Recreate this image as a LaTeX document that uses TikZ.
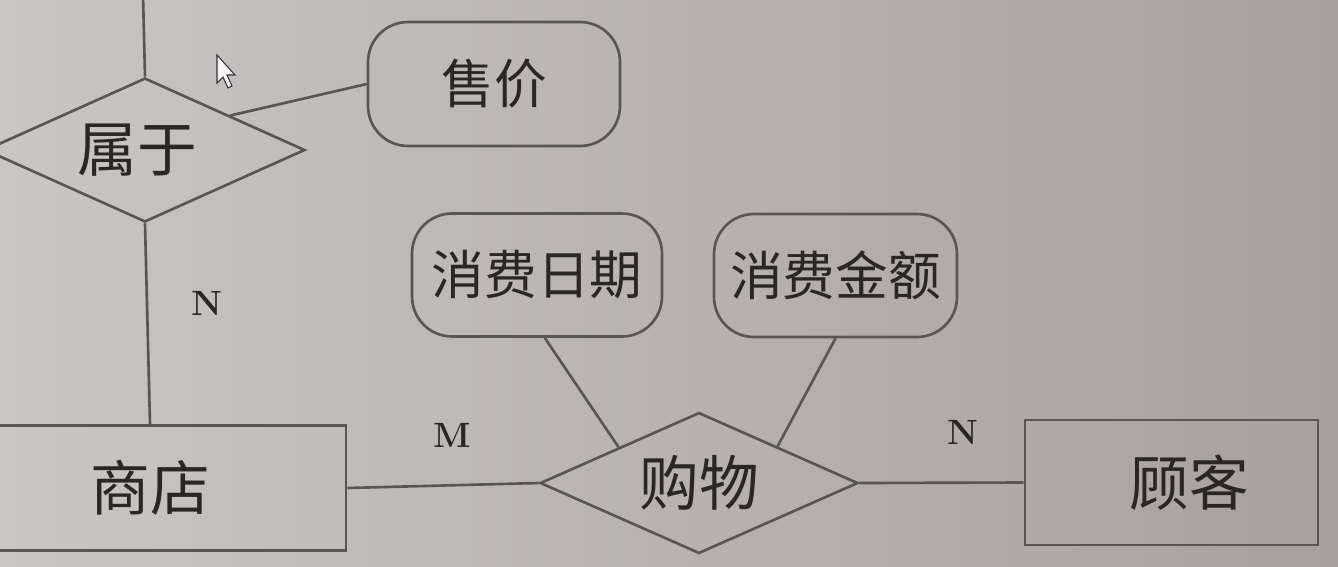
\documentclass[tikz,border=0pt]{standalone}
\usepackage{fontspec}
\newfontfamily\cjk{Noto Sans CJK SC}
\usetikzlibrary{shapes.geometric}
\definecolor{bgL}{HTML}{C9C6C5}
\definecolor{bgR}{HTML}{A7A09E}
\definecolor{ln}{HTML}{5A5555}
\definecolor{tx}{HTML}{2A2626}
\begin{document}
\begin{tikzpicture}[x=0.02cm,y=-0.02cm,
  conn/.style={draw=ln,line width=1.5pt},
  entity/.style={draw=ln,line width=1.5pt,rectangle,minimum height=2.5cm,inner sep=0pt,font=\cjk\fontsize{34}{40}\selectfont,text=tx},
  attr/.style={draw=ln,line width=1.5pt,rectangle,rounded corners=0.8cm,minimum height=2.46cm,inner sep=0pt,font=\cjk\fontsize{30}{36}\selectfont,text=tx},
  rel/.style={draw=ln,line width=1.5pt,diamond,shape aspect=2.4,inner sep=0pt,font=\cjk\fontsize{34}{40}\selectfont,text=tx},
  card/.style={font=\bfseries\fontsize{20}{24}\selectfont,text=tx}]
\useasboundingbox (0,0) rectangle (1338,566);
\clip (0,0) rectangle (1338,566);
\shade[left color=bgL,right color=bgR] (0,0) rectangle (1338,566);

\node[rel,minimum width=6.4cm,minimum height=2.88cm] (shuyu) at (145,150) {属于\hspace*{0.3cm}};
\node[attr,minimum width=5.04cm,minimum height=2.48cm] (shoujia) at (494,84) {售价};
\node[entity,minimum width=7.84cm] (shangdian) at (150,488) {商店};
\node[rel,minimum width=6.36cm,minimum height=2.82cm] (gouwu) at (699,483) {购物};
\node[attr,minimum width=5.0cm] (riqi) at (537,275) {消费日期};
\node[attr,minimum width=4.86cm] (jine) at (835.5,275.5) {消费金额};
\node[entity,minimum width=5.86cm] (guke) at (1171.5,482.5) {\hspace*{0.7cm}顾客};

\coordinate (topend) at (143,-5);
\draw[conn] (topend) -- (shuyu.north);
\draw[conn] (shuyu.22) -- (shoujia.west);
\draw[conn] (shuyu.south) -- (shangdian.north);
\draw[conn] (shangdian.east) -- (gouwu.west);
\draw[conn] (riqi.-83) -- (gouwu.156);
\draw[conn] (jine.-90) -- (gouwu.25);
\draw[conn] (gouwu.east) -- (guke.west);

\node[card] (n1) at (207,303) {N};
\node[card] (m1) at (452,435) {M};
\node[card] (n2) at (963,432) {N};

% mouse pointer
\filldraw[fill=white!92!gray,draw=black!80,line width=0.6pt]
  (217,55) -- (217,83) -- (223,77) -- (228,88) -- (232,86) -- (227,75) -- (235,75) -- cycle;
\end{tikzpicture}
\end{document}
